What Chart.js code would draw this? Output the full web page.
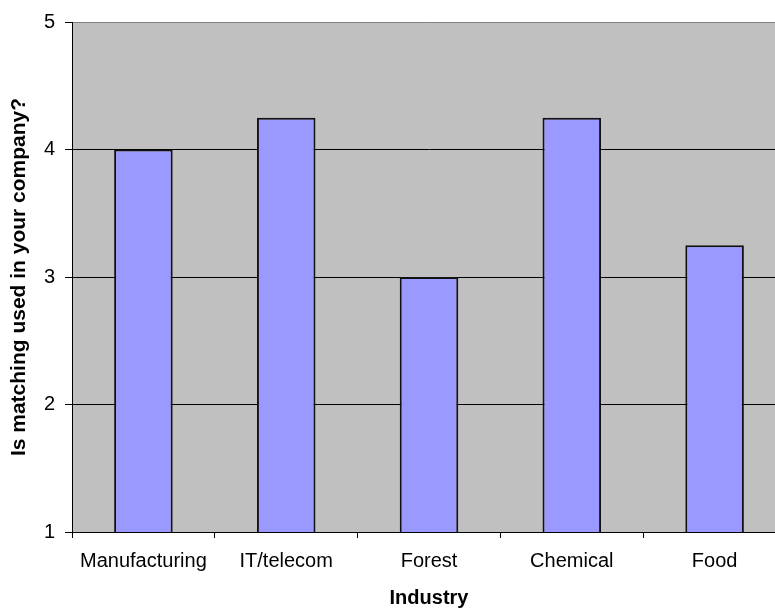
<!DOCTYPE html>
<html>
<head>
<meta charset="utf-8">
<script src="https://cdn.jsdelivr.net/npm/chart.js@4/dist/chart.umd.min.js"></script>
<style>
  html, body { margin: 0; padding: 0; background: #fff; overflow: hidden; width: 775px; height: 610px; }
  #wrap { width: 790px; height: 610px; }
</style>
</head>
<body>
<div id="wrap"><canvas id="chart" width="790" height="610"></canvas></div>
<script>
// Average answer per industry
const industries = ['Manufacturing', 'IT/telecom', 'Forest', 'Chemical', 'Food'];
const scores = [4, 4.25, 3, 4.25, 3.25];
const yTickValues = [1, 2, 3, 4, 5];

const FONT = '"Liberation Sans", Arial, sans-serif';

// Gray fill behind the plot area
const plotBackground = {
  id: 'plotBackground',
  beforeDraw(chart) {
    const { ctx, chartArea: a } = chart;
    ctx.save();
    ctx.fillStyle = '#C0C0C0';
    ctx.fillRect(a.left, a.top, a.right - a.left, a.bottom - a.top);
    ctx.restore();
  }
};

new Chart(document.getElementById('chart'), {
  type: 'bar',
  data: {
    labels: industries,
    datasets: [{
      data: scores,
      backgroundColor: '#9999FF',
      borderColor: '#111111',
      borderWidth: 2,
      borderSkipped: false,
      categoryPercentage: 1,
      barPercentage: 0.41
    }]
  },
  options: {
    responsive: false,
    devicePixelRatio: 1,
    animation: false,
    layout: { padding: { left: 0, top: 22, right: 4, bottom: 0 } },
    plugins: {
      legend: { display: false },
      tooltip: { enabled: false }
    },
    scales: {
      x: {
        grid: {
          display: true,
          drawOnChartArea: false,
          offset: true,
          tickLength: 6,
          color: '#000000'
        },
        border: { display: true, color: '#000000' },
        ticks: {
          color: '#000000',
          padding: 11,
          maxRotation: 0,
          font: { family: FONT, size: 20 }
        },
        title: {
          display: true,
          text: 'Industry',
          color: '#000000',
          padding: { top: 0, bottom: 0 },
          font: { family: FONT, size: 20, weight: 'bold', lineHeight: 1.15 }
        },
        afterFit(scale) { scale.height = 78; }
      },
      y: {
        min: 1,
        max: 5,
        afterBuildTicks(scale) { scale.ticks = yTickValues.map(v => ({ value: v })); },
        grid: {
          color: ctx => (ctx.tick && ctx.tick.value === 5) ? '#808080' : '#000000',
          tickColor: '#000000',
          tickLength: 7
        },
        border: { display: true, color: '#000000' },
        ticks: {
          color: '#000000',
          padding: 10,
          font: { family: FONT, size: 20 }
        },
        title: {
          display: true,
          text: 'Is matching used in your company?',
          color: '#000000',
          padding: { top: 7, bottom: 0 },
          font: { family: FONT, size: 21, weight: 'bold' }
        },
        afterFit(scale) { scale.width = 72; }
      }
    }
  },
  plugins: [plotBackground]
});
</script>
</body>
</html>
